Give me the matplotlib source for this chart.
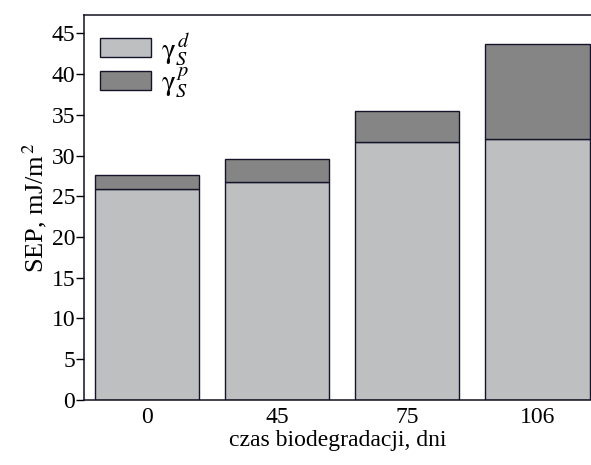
import numpy as np
import matplotlib
matplotlib.use('Agg')
import matplotlib.pyplot as plt

# Datos
dias = ['0', '45', '75', '106']
gamma_d = [25.9, 26.8, 31.7, 32.0]
gamma_p = [1.7, 2.8, 3.8, 11.7]

plt.rcParams['font.family'] = ['Liberation Serif', 'DejaVu Serif']
plt.rcParams['mathtext.fontset'] = 'stix'

color_d = '#bebfc1'
color_p = '#858586'
borde = '#15152a'

fig = plt.figure(figsize=(5.91, 4.65), dpi=100)
ax = fig.add_axes([0.1427, 0.1404, 0.857, 0.8263])

x = np.arange(len(dias))
ax.bar(x, gamma_d, width=0.8, color=color_d, edgecolor=borde, linewidth=1.0,
       label=r'$\mathrm{\gamma}_{\mathit{S}}^{\,\mathit{d}}$')
ax.bar(x, gamma_p, width=0.8, bottom=gamma_d, color=color_p, edgecolor=borde,
       linewidth=1.0, label=r'$\mathrm{\gamma}_{\mathit{S}}^{\,\mathit{p}}$')

ax.set_xlim(-0.482, 3.41)
ax.set_ylim(0, 47.2)
ax.set_yticks(np.arange(0, 46, 5))
ax.set_xticks(x)
ax.set_xticklabels(dias)

ax.spines['right'].set_visible(False)
for s in ['left', 'bottom', 'top']:
    ax.spines[s].set_linewidth(1.1)
    ax.spines[s].set_color('#111122')

ax.tick_params(axis='y', direction='out', length=5.5, width=1.0, labelsize=17, pad=1)
ax.tick_params(axis='x', length=0, labelsize=17, pad=5)

ax.set_xlabel('czas biodegradacji, dni', fontsize=17, labelpad=2)
ax.set_ylabel(r'SEP, mJ/m$^{\,2}$', fontsize=19, labelpad=2)

ax.legend(loc='upper left', frameon=False, fontsize=21, handlelength=1.75,
          handleheight=0.62, handletextpad=0.32, labelspacing=-0.06,
          borderaxespad=0.15, bbox_to_anchor=(0.0, 1.0))

plt.savefig('out.png', dpi=100)
